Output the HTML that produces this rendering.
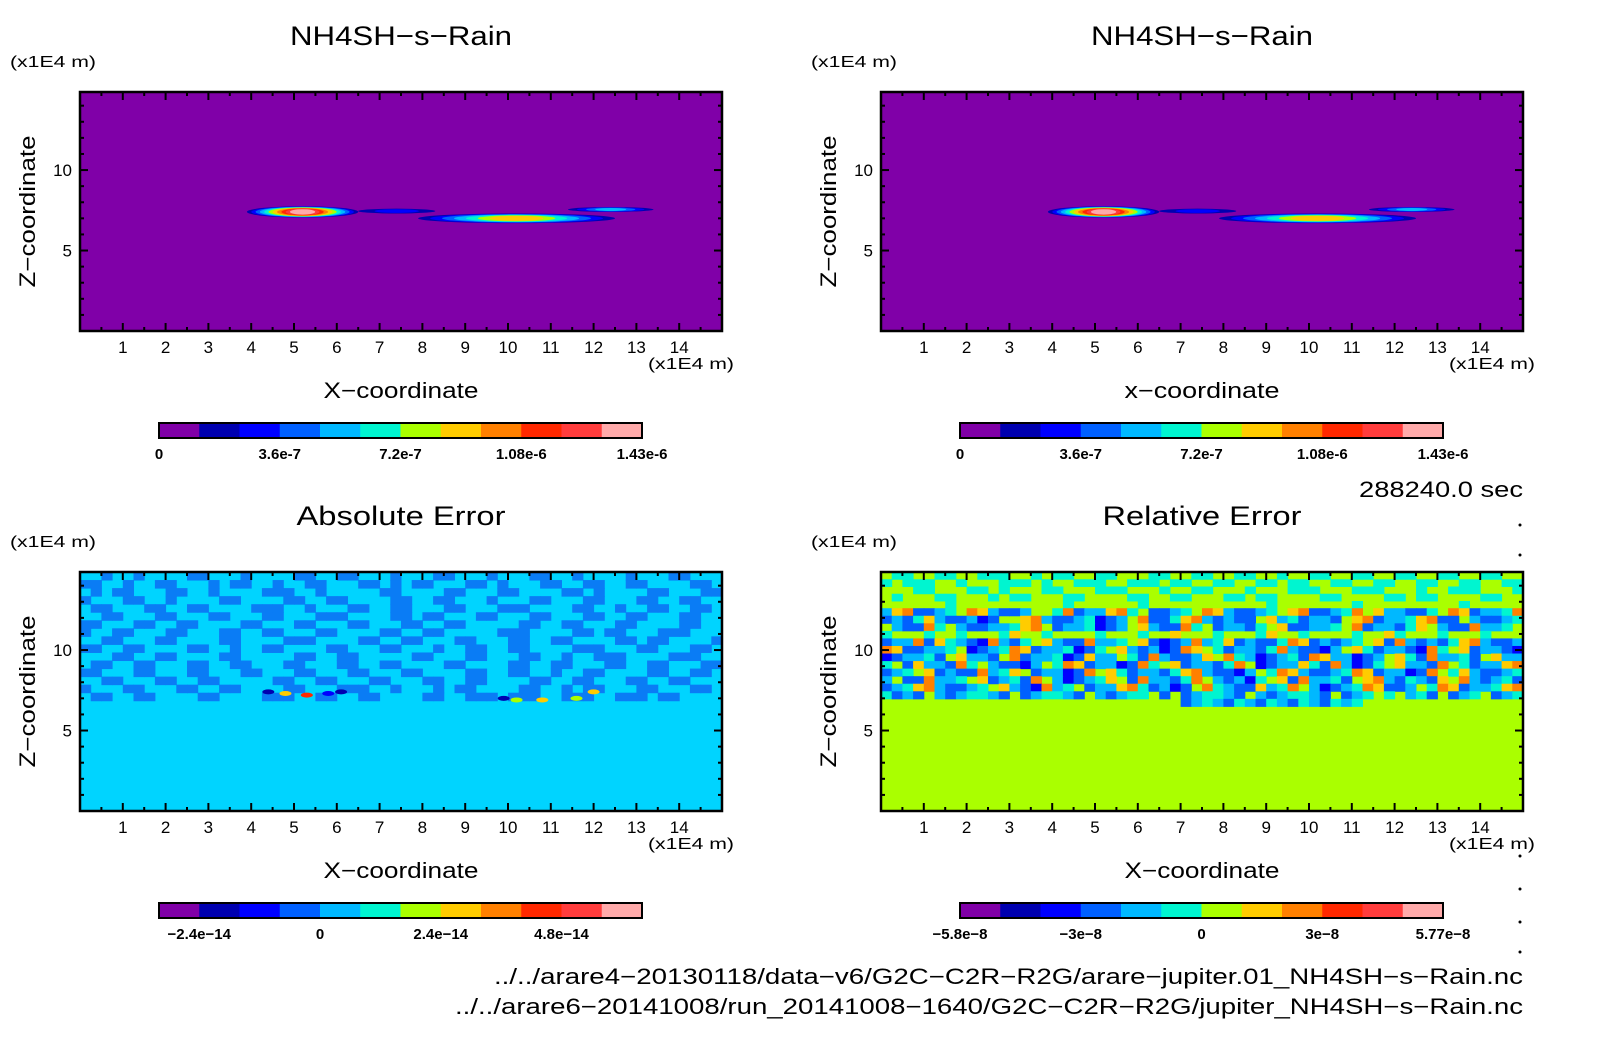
<!DOCTYPE html>
<html><head><meta charset="utf-8"><style>
html,body{margin:0;padding:0;background:#fff;}
svg{display:block;font-family:"Liberation Sans",sans-serif;}
</style></head><body>
<svg id="fig" width="1604" height="1054" viewBox="0 0 1604 1054" xmlns="http://www.w3.org/2000/svg"></svg>
<script>
// ---- data ----
const xTicks = [1,2,3,4,5,6,7,8,9,10,11,12,13,14];
const yTicks = [5,10];
const xMax = 15, zMax = 14.85;
const colors = ["#8000a8","#0000b0","#0000ff","#0060ff","#00b8ff","#00f5d0","#aaff00","#ffcc00","#ff8000","#ff2800","#ff3c3c","#ffaaaa"];
const cbTopLabels = ["0","3.6e-7","7.2e-7","1.08e-6","1.43e-6"];
const cbTopPos = [0,3,6,9,12];
const cbAbsLabels = ["\u22122.4e\u221214","0","2.4e\u221214","4.8e\u221214"];
const cbAbsPos = [1,4,7,10];
const cbRelLabels = ["\u22125.8e\u22128","\u22123e\u22128","0","3e\u22128","5.77e\u22128"];
const cbRelPos = [0,3,6,9,12];
// rain blobs (top panels)
const blobX = [5.2, 10.2, 12.4, 7.4];
const blobZ = [7.4, 7.0, 7.55, 7.45];
const blobHalfW = [1.3, 2.3, 1.0, 0.9];
const blobHalfH = [0.35, 0.3, 0.15, 0.15];
const blobPeak = [11, 7, 4, 2];
// abs error spots
const spotX = [4.8,5.3,5.8,6.1,10.2,10.8,11.6,12.0,4.4,9.9];
const spotZ = [7.3,7.2,7.3,7.4,6.9,6.9,7.0,7.4,7.4,7.0];
const spotLv = [7,9,2,1,6,7,6,7,1,1];
// abs error field (rows top->bottom), 1 = darker patch
const absRows = [
"001001000011000100001100110001000110001000110010000100011000",
"110010011000101100100110001101011000110100011001100110000110",
"010110001100100001110010000011000011000110000110100001100011",
"100011001000011000011001100001100110001000110001100011001100",
"011000110011000011100100011001100011000111000011001001100110",
"001100011000110001100011100001101100011000110001100110001100",
"110001100110000110001100011000110011000001100110001100001100",
"100110001100011001100011000011001100000111000011011000111000",
"001100011000011000011100001100110001100011001100001101100001",
"110011000011001001100001100011000100110011000011100011000110",
"000110011000011000001100110000011000110001100100111000011100",
"011001100011001100011000110011000011000011001100011001100011",
"110001100011000110001100011000110000110011001001100001100110",
"001100011001100000110011000110001100110000110011000110011000",
"100011000110011000011000111001000101100001100101100011000110",
"011001100001100001110011001100001100111011100111001110110000"];
const absTop = 14.85, absBottom = 6.85;
// relative error field, top band z 14.85->12.6, middle 12.6->6.7
const relTopRows = [
"655665566555665655665566655665566556656655665566556655665566",
"565556656665556566555665556556655665565566556655665566556655",
"666556665565666556665556665665566656665556665556665665556665",
"656665566656556665566665566556665565566665566665565566665566",
"666666566666666665666666566666666666566666665666666666566666"];
const relMidRows = [
"478334568743346658344785633456874334567833458674433568734458",
"343574334236678433452346833578434336745344367834457833643345",
"643385643344578634452346743385634435673344568344357643384456",
"566656656665766566665666566766656665766566665667566656665666",
"344837543284356743384456732348457343358734345673843435784334",
"873344562345873445235674342387653443584332467534432856734432",
"234453674436834452374465384334768542345387442346753844536744",
"563744385643324658734423856734435862344753842356744386534478",
"345673433845763442386753443578433246587433458734423865743345",
"463384456734538642345763844358643425673844536784354376843453",
"345784334567432845634478534236854337458642345873346587344578",
"534364345543634554364345563634554364345543634565645363456345",
"666666666666666666666666666634543543543543545666666666666666"];
const relMidTop = 12.6, relMidBottom = 6.5;

// ---- drawing ----
const NS="http://www.w3.org/2000/svg";
const svg=document.getElementById('fig');
function mk(tag,attrs,parent){const e=document.createElementNS(NS,tag);for(const k in attrs)e.setAttribute(k,attrs[k]);(parent||svg).appendChild(e);return e;}
function txt(s,x,y,size,anchor,parent,extra){const t=mk('text',Object.assign({x:x,y:y,'font-size':size,'text-anchor':anchor||'start',fill:'#000'},extra||{}),parent);t.textContent=s;return t;}

const panels=[
 {id:'top-left',x0:80,y0:92,title:'NH4SH\u2212s\u2212Rain',tw:222,xl:'X\u2212coordinate',kind:'rain',cb:[cbTopLabels,cbTopPos]},
 {id:'top-right',x0:881,y0:92,title:'NH4SH\u2212s\u2212Rain',tw:222,xl:'x\u2212coordinate',kind:'rain',cb:[cbTopLabels,cbTopPos]},
 {id:'bottom-left',x0:80,y0:572,title:'Absolute Error',tw:209,xl:'X\u2212coordinate',kind:'abs',cb:[cbAbsLabels,cbAbsPos]},
 {id:'bottom-right',x0:881,y0:572,title:'Relative Error',tw:199,xl:'X\u2212coordinate',kind:'rel',cb:[cbRelLabels,cbRelPos]}];
const W=642,H=239;

panels.forEach(p=>{
 const g=mk('g',{});
 
 
 const sx=v=>p.x0+v/xMax*W, sz=v=>p.y0+H-v/zMax*H;
 const cx=p.x0+W/2;
 const tt=txt(p.title,cx,p.y0-47,27,'middle',g,{textLength:p.tw,lengthAdjust:'spacingAndGlyphs'});
 
 
 const ul=txt('(x1E4 m)',p.x0-70,p.y0-25,16,'start',g,{textLength:86,lengthAdjust:'spacingAndGlyphs'});
 
 
 const plot=mk('g',{},g);
 
 
 const cp='clip-'+p.id;
 const cpe=mk('clipPath',{id:cp},g);mk('rect',{x:p.x0,y:p.y0,width:W,height:H},cpe);
 plot.setAttribute('clip-path','url(#'+cp+')');
 if(p.kind==='rain'){
  mk('rect',{x:p.x0,y:p.y0,width:W,height:H,fill:colors[0]},plot);
  blobX.forEach((bx,i)=>{
   const pk=blobPeak[i];
   for(let k=1;k<=pk;k++){
    const f=1-(k-1)/pk*0.85;
    const e=mk('ellipse',{cx:sx(bx),cy:sz(blobZ[i]),rx:blobHalfW[i]/xMax*W*f,ry:Math.max(1,blobHalfH[i]/zMax*H*Math.sqrt(f)),fill:colors[k]},plot);
    
    
   }
  });
 } else if(p.kind==='abs'){
  mk('rect',{x:p.x0,y:p.y0,width:W,height:H,fill:'#00d4ff'},plot);
  const rh=(absTop-absBottom)/absRows.length;
  absRows.forEach((r,ri)=>{
   const cw=xMax/r.length;
   for(let c=0;c<r.length;c++){ if(r[c]==='1'){
    const rc=mk('rect',{x:sx(c*cw),y:sz(absTop-ri*rh),width:cw/xMax*W+0.5,height:rh/zMax*H+0.5,fill:'#0a7cf5'},plot);
    
    
   }}
  });
  spotX.forEach((x,i)=>{
   const e=mk('ellipse',{cx:sx(x),cy:sz(spotZ[i]),rx:6,ry:2.5,fill:colors[spotLv[i]]},plot);
   
   
  });
 } else {
  mk('rect',{x:p.x0,y:p.y0,width:W,height:H,fill:colors[6]},plot);
  const drawRows=(rows,top,bot)=>{
   const rh=(top-bot)/rows.length;
   rows.forEach((r,ri)=>{
    const cw=xMax/r.length;
    for(let c=0;c<r.length;c++){const lv=parseInt(r[c],16); if(lv!==6){
     const rc=mk('rect',{x:sx(c*cw),y:sz(top-ri*rh),width:cw/xMax*W+0.5,height:rh/zMax*H+0.5,fill:colors[lv]},plot);
     
     
    }}
   });
  };
  drawRows(relTopRows,14.85,12.6);
  drawRows(relMidRows,relMidTop,relMidBottom);
 }
 // frame
 mk('rect',{x:p.x0,y:p.y0,width:W,height:H,fill:'none',stroke:'#000','stroke-width':2.5},g);
 // ticks
 for(let v=0.5;v<xMax;v+=0.5){
  const major=Number.isInteger(v), L=major?8:4;
  mk('line',{x1:sx(v),x2:sx(v),y1:p.y0,y2:p.y0+L,stroke:'#000','stroke-width':2},g);
  mk('line',{x1:sx(v),x2:sx(v),y1:p.y0+H,y2:p.y0+H-L,stroke:'#000','stroke-width':2},g);
 }
 for(let v=1;v<zMax;v+=1){
  const major=yTicks.includes(v), L=major?8:4;
  mk('line',{x1:p.x0,x2:p.x0+L,y1:sz(v),y2:sz(v),stroke:'#000','stroke-width':2},g);
  mk('line',{x1:p.x0+W,x2:p.x0+W-L,y1:sz(v),y2:sz(v),stroke:'#000','stroke-width':2},g);
 }
 xTicks.forEach(v=>{const t=txt(String(v),sx(v),p.y0+H+22,17,'middle',g);
  
  });
 yTicks.forEach(v=>{const t=txt(String(v),p.x0-8,sz(v)+6,17,'end',g);
  
  });
 const xu=txt('(x1E4 m)',p.x0+W-74,p.y0+H+38,16,'start',g,{textLength:86,lengthAdjust:'spacingAndGlyphs'});
 
 
 const xt=txt(p.xl,cx,p.y0+H+67,22,'middle',g,{textLength:155,lengthAdjust:'spacingAndGlyphs'});
 
 
 const yt=txt('Z\u2212coordinate',0,0,22,'middle',g,{textLength:152,lengthAdjust:'spacingAndGlyphs',transform:'translate('+(p.x0-45)+','+(p.y0+H/2)+') rotate(-90)'});
 
 
 // colorbar
 const cb=mk('g',{},g);
 
 
 const cbx=p.x0+79, cby=p.y0+331, cbw=483, cbh=15;
 colors.forEach((c,i)=>{mk('rect',{x:cbx+i*cbw/12,y:cby,width:cbw/12+0.5,height:cbh,fill:c},cb);});
 mk('rect',{x:cbx,y:cby,width:cbw,height:cbh,fill:'none',stroke:'#000','stroke-width':2},cb);
 p.cb[0].forEach((s,i)=>{const t=txt(s,cbx+p.cb[1][i]*cbw/12,cby+36,15,'middle',cb,{'font-weight':'bold'});
  
  });
});
const tm=txt('288240.0 sec',1523,497,22,'end',svg,{textLength:164,lengthAdjust:'spacingAndGlyphs'});


const f1=txt('../../arare4\u221220130118/data\u2212v6/G2C\u2212C2R\u2212R2G/arare\u2212jupiter.01_NH4SH\u2212s\u2212Rain.nc',1523,984,22,'end',svg,{textLength:1029,lengthAdjust:'spacingAndGlyphs'});


const f2=txt('../../arare6\u221220141008/run_20141008\u22121640/G2C\u2212C2R\u2212R2G/jupiter_NH4SH\u2212s\u2212Rain.nc',1523,1014,22,'end',svg,{textLength:1068,lengthAdjust:'spacingAndGlyphs'});


[525,555,856,889,922,952].forEach(y=>{mk('circle',{cx:1520,cy:y,r:1.5,fill:'#000'});});
</script>
</body></html>
